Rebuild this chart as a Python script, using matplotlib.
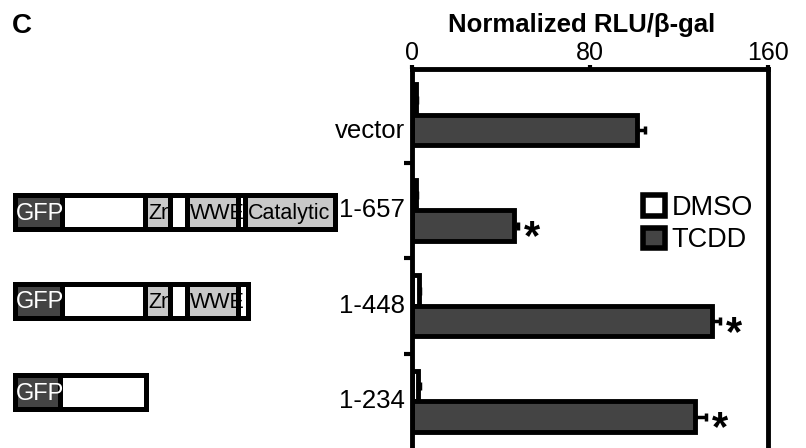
import matplotlib
matplotlib.use('Agg')
import matplotlib.pyplot as plt
from matplotlib.patches import Rectangle, Patch
import matplotlib.transforms as mtransforms
import numpy as np

plt.rcParams['font.family'] = ['Liberation Sans', 'DejaVu Sans']
plt.rcParams['mathtext.fontset'] = 'custom'
plt.rcParams['mathtext.bf'] = 'Liberation Sans:bold'
plt.rcParams['mathtext.rm'] = 'Liberation Sans'

# Bar chart data
categories = ['vector', '1-657', '1-448', '1-234']
dmso = [2.0, 2.0, 3.0, 2.5]
dmso_err = [0.3, 0.3, 0.5, 1.0]
tcdd = [101.0, 46.0, 135.0, 127.0]
tcdd_err = [3.5, 1.5, 3.5, 5.0]
significant = [False, True, True, True]

# Domain diagrams: (label, start, end) in diagram units
seg_657 = [('GFP', 0, 47), ('', 47, 130), ('Zn', 130, 155), ('', 155, 172),
           ('WWE', 172, 223), ('', 223, 230), ('Catalytic', 230, 320)]
seg_448 = [('GFP', 0, 47), ('', 47, 130), ('Zn', 130, 155), ('', 155, 172),
           ('WWE', 172, 223), ('', 223, 233)]
seg_234 = [('GFP', 0, 45), ('', 45, 131)]
diagrams = [seg_657, seg_448, seg_234]

DARK = '#444444'
GRAY = '#c8c8c8'

fig = plt.figure(figsize=(8.06, 4.48), dpi=100)

# overlay axes in pixel coordinates for the construct diagrams
dax = fig.add_axes([0, 0, 1, 1])
dax.set_xlim(0, 806)
dax.set_ylim(448, 0)
dax.axis('off')

row_y = [212.5, 301, 392.5]
row_h = 34
x0 = 15
for segs, yc in zip(diagrams, row_y):
    for label, s, e in segs:
        if label == 'GFP':
            fc = DARK
        elif label:
            fc = GRAY
        else:
            fc = 'white'
        rect = Rectangle((x0 + s, yc - row_h / 2), e - s, row_h,
                         facecolor=fc, edgecolor='black', lw=3.6, zorder=2)
        dax.add_patch(rect)
        if label == 'GFP':
            dax.text(x0 + s + 1, yc + 1, label, color='white', fontsize=17,
                     ha='left', va='center', zorder=4)
        elif label:
            t = dax.text(x0 + s + 3, yc + 1, label, color='black', fontsize=15.5,
                         ha='left', va='center', zorder=3)
            t.set_clip_path(rect)

# bar chart
ax = fig.add_axes([412 / 806, -3 / 448, 356 / 806, 382 / 448])
y = np.arange(len(categories))
h = 0.32
ax.barh(y - h / 2, dmso, height=h, color='white', edgecolor='black', lw=3.5,
        xerr=[np.zeros(len(dmso)), dmso_err],
        error_kw=dict(ecolor='black', elinewidth=2.5, capsize=3, capthick=2.5))
ax.barh(y + h / 2, tcdd, height=h, color=DARK, edgecolor='black', lw=3.5,
        xerr=[np.zeros(len(tcdd)), tcdd_err],
        error_kw=dict(ecolor='black', elinewidth=2.5, capsize=3, capthick=2.5))

# significance stars (mathtext keeps the text box tight to the glyph)
for i, sig in enumerate(significant):
    if sig:
        ax.annotate(r'$\mathbf{*}$', xy=(tcdd[i] + tcdd_err[i], y[i] + h / 2),
                    xytext=(10, -16.5), textcoords='offset points',
                    ha='center', va='baseline', fontsize=30)

ax.set_xlim(0, 160)
ax.set_ylim(3.52, -0.48)
ax.xaxis.tick_top()
ax.set_xticks([0, 80, 160])
ax.tick_params(axis='x', direction='out', length=3, width=3, labelsize=18, pad=0)
ax.set_yticks([0.5, 1.5, 2.5])
ax.set_yticklabels([])
ax.tick_params(axis='y', direction='out', length=6, width=3)
for side in ['left', 'top', 'right']:
    ax.spines[side].set_linewidth(3.5)
ax.spines['bottom'].set_visible(False)

label_dy = [0.17, 0, 0, 0]
trans = mtransforms.blended_transform_factory(ax.transAxes, ax.transData)
for i, cat in enumerate(categories):
    ax.text(-0.02, y[i] + label_dy[i], cat, transform=trans, ha='right',
            va='center', fontsize=18.5)

handles = [Patch(facecolor='white', edgecolor='black', lw=4),
           Patch(facecolor=DARK, edgecolor='black', lw=4)]
fig.legend(handles, ['DMSO', 'TCDD'], loc='center left',
           bbox_to_anchor=(643 / 806, 1 - 224 / 448), frameon=False,
           fontsize=19.5, handlelength=0.8, handleheight=0.8, handletextpad=0.25,
           labelspacing=0.25, borderpad=0, borderaxespad=0)

fig.text(582 / 806, 1 - 25 / 448, 'Normalized RLU/\u03b2-gal', ha='center',
         va='center', fontsize=18.5, fontweight='bold')
fig.text(22 / 806, 1 - 26 / 448, 'C', ha='center', va='center', fontsize=20,
         fontweight='bold')

fig.savefig('out.png', dpi=100)
